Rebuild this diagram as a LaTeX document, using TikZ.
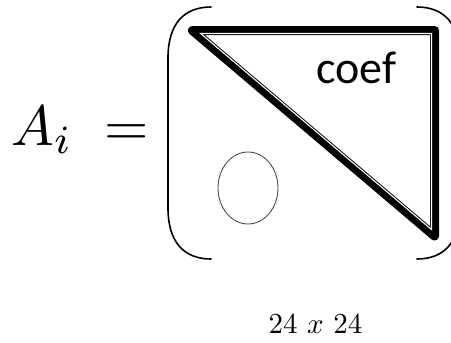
\documentclass[tikz,border=0pt]{standalone}
\usepackage{fontspec}
\usetikzlibrary{shapes.geometric}
\newfontfamily\coeffont{Carlito}
\tikzset{
  paren/.style={line width=1.6pt, line cap=round},
  lbl/.style={inner sep=0pt, anchor=base west},
}
\begin{document}
\begin{tikzpicture}[x=1pt,y=-1pt]
\useasboundingbox (0,0) rectangle (451,343);
\clip (0,0) rectangle (451,343);
% label A_i =
\node[lbl, scale=5.7] (ai) at (10,145) {$A_i\;=$};
% parentheses
\draw[paren] (211,7) .. controls (183,7) and (168,25) .. (168,58) -- (168,208) .. controls (168,241) and (183,259) .. (211,259);
\draw[paren] (417,7) .. controls (445,7) and (460,25) .. (460,58) -- (460,208) .. controls (460,241) and (445,259) .. (417,259);
% triangle
\coordinate (tA) at (192.5,30.5);
\coordinate (tB) at (434.5,30.5);
\coordinate (tC) at (434.5,236);
\draw[line width=9pt, line join=round] (tA) -- (tB) -- (tC) -- cycle;
\draw[white, line width=1.1pt, line join=miter] (200.67,33.5) -- (431.5,33.5) -- (431.5,229.52) -- cycle;
% coef
\node[lbl, font=\coeffont\fontsize{46}{52}\selectfont] (coef) at (316,83) {coef};
% ellipse
\node[draw=black!70, line width=0.9pt, ellipse, minimum width=60pt, minimum height=72pt, inner sep=0pt] (circ) at (248,188) {};
% size
\node[lbl, scale=2.9] (size) at (268,333) {$24~x~24$};
\end{tikzpicture}
\end{document}
